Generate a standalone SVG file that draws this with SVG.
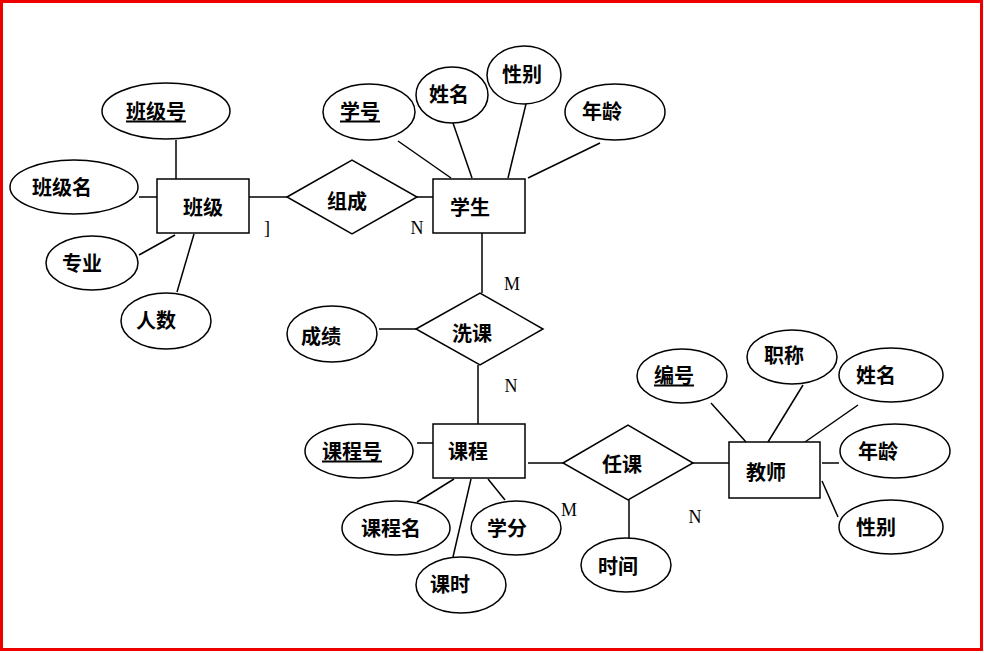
<svg xmlns="http://www.w3.org/2000/svg" width="984" height="653" viewBox="0 0 984 653">
<style>
.s{fill:#fff;stroke:#000;stroke-width:1.5}
.t{font-family:"Noto Sans CJK SC","Noto Sans",sans-serif;font-size:20px;font-weight:bold;text-anchor:middle;dominant-baseline:central;fill:#000}
.u{text-decoration:underline}
.c{font-family:"Liberation Serif",serif;font-size:18px;text-anchor:middle;fill:#000}
#edges line{stroke:#000;stroke-width:1.5}
</style>
<rect x="0" y="0" width="984" height="653" fill="#fff"/>
<rect x="1.5" y="1.5" width="980" height="648" fill="none" stroke="#e00" stroke-width="3"/>
<g id="edges">
<line x1="176" y1="140" x2="176" y2="179"/>
<line x1="139" y1="197" x2="157" y2="197"/>
<line x1="139" y1="255" x2="175" y2="235"/>
<line x1="177" y1="292" x2="194" y2="234"/>
<line x1="249" y1="197" x2="287" y2="197"/>
<line x1="417" y1="197" x2="433" y2="197"/>
<line x1="398" y1="141" x2="451" y2="178"/>
<line x1="453" y1="123" x2="472" y2="178"/>
<line x1="526" y1="104" x2="508" y2="178"/>
<line x1="600" y1="143" x2="528" y2="178"/>
<line x1="482" y1="233" x2="482" y2="293"/>
<line x1="379" y1="329" x2="416" y2="329"/>
<line x1="478" y1="365" x2="478" y2="424"/>
<line x1="417" y1="443" x2="433" y2="443"/>
<line x1="417" y1="502" x2="454" y2="479"/>
<line x1="453" y1="557" x2="471" y2="479"/>
<line x1="505" y1="500" x2="488" y2="479"/>
<line x1="528" y1="463" x2="563" y2="463"/>
<line x1="629" y1="500" x2="629" y2="538"/>
<line x1="693" y1="463" x2="729" y2="463"/>
<line x1="711" y1="403" x2="746" y2="442"/>
<line x1="803" y1="385" x2="768" y2="442"/>
<line x1="858" y1="405" x2="805" y2="442"/>
<line x1="822" y1="463" x2="839" y2="463"/>
<line x1="822" y1="481" x2="838" y2="517"/>
</g>
<g id="banji"><rect class="s" x="157" y="179" width="92" height="54"/><text class="t" x="203" y="206">班级</text></g>
<g id="banjihao"><ellipse class="s" cx="166" cy="111" rx="64" ry="28"/><text class="t u" x="156" y="110">班级号</text></g>
<g id="banjiming"><ellipse class="s" cx="74" cy="187" rx="64" ry="27"/><text class="t" x="62" y="186">班级名</text></g>
<g id="zhuanye"><ellipse class="s" cx="92" cy="263" rx="46" ry="27"/><text class="t" x="82" y="262">专业</text></g>
<g id="renshu"><ellipse class="s" cx="166" cy="321" rx="45" ry="28"/><text class="t" x="156" y="319">人数</text></g>
<g id="zucheng"><polygon class="s" points="287,197 352,160 417,197 352,234"/><text class="t" x="347" y="200">组成</text></g>
<g id="xuesheng"><rect class="s" x="433" y="179" width="92" height="54"/><text class="t" x="470" y="206">学生</text></g>
<g id="xuehao"><ellipse class="s" cx="369" cy="112" rx="46" ry="28"/><text class="t u" x="360" y="110">学号</text></g>
<g id="xingming1"><ellipse class="s" cx="452" cy="95" rx="36" ry="28"/><text class="t" x="449" y="93">姓名</text></g>
<g id="xingbie1"><ellipse class="s" cx="524" cy="75" rx="37" ry="29"/><text class="t" x="522" y="73">性别</text></g>
<g id="nianling1"><ellipse class="s" cx="615" cy="112" rx="50" ry="28"/><text class="t" x="602" y="110">年龄</text></g>
<g id="xuanke"><polygon class="s" points="416,329 480,293 543,329 480,365"/><text class="t" x="472" y="332">洗课</text></g>
<g id="chengji"><ellipse class="s" cx="332" cy="334" rx="45" ry="28"/><text class="t" x="321" y="335">成绩</text></g>
<g id="kecheng"><rect class="s" x="433" y="424" width="92" height="54"/><text class="t" x="468" y="450">课程</text></g>
<g id="kechenghao"><ellipse class="s" cx="359" cy="451" rx="54" ry="27"/><text class="t u" x="352" y="450">课程号</text></g>
<g id="kechengming"><ellipse class="s" cx="396" cy="528" rx="54" ry="27"/><text class="t" x="391" y="527">课程名</text></g>
<g id="xuefen"><ellipse class="s" cx="516" cy="528" rx="45" ry="27"/><text class="t" x="507" y="527">学分</text></g>
<g id="keshi"><ellipse class="s" cx="461" cy="585" rx="45" ry="28"/><text class="t" x="450" y="583">课时</text></g>
<g id="renke"><polygon class="s" points="563,463 628,425 693,463 628,500"/><text class="t" x="622" y="463">任课</text></g>
<g id="shijian"><ellipse class="s" cx="626" cy="565" rx="45" ry="27"/><text class="t" x="618" y="565">时间</text></g>
<g id="jiaoshi"><rect class="s" x="729" y="442" width="91" height="56"/><text class="t" x="766" y="471">教师</text></g>
<g id="bianhao"><ellipse class="s" cx="682" cy="376" rx="45" ry="27"/><text class="t u" x="674" y="374">编号</text></g>
<g id="zhicheng"><ellipse class="s" cx="792" cy="357" rx="45" ry="27"/><text class="t" x="784" y="354">职称</text></g>
<g id="xingming2"><ellipse class="s" cx="891" cy="375" rx="52" ry="27"/><text class="t" x="876" y="374">姓名</text></g>
<g id="nianling2"><ellipse class="s" cx="895" cy="451" rx="55" ry="27"/><text class="t" x="878" y="450">年龄</text></g>
<g id="xingbie2"><ellipse class="s" cx="891" cy="527" rx="52" ry="27"/><text class="t" x="876" y="526">性别</text></g>
<text class="c" x="267" y="234">]</text>
<text class="c" x="417" y="234">N</text>
<text class="c" x="512" y="290">M</text>
<text class="c" x="511" y="392">N</text>
<text class="c" x="569" y="516">M</text>
<text class="c" x="695" y="523">N</text>
</svg>
